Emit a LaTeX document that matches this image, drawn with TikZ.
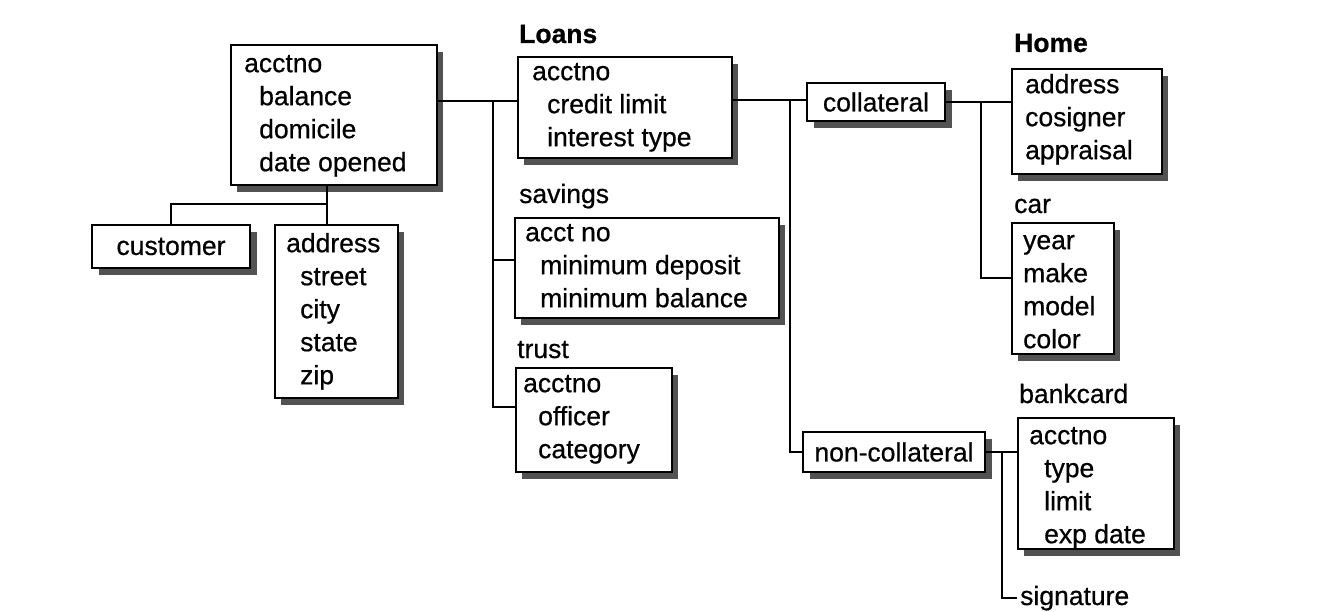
\documentclass[tikz,border=0pt]{standalone}
\usepackage{fontspec}
\setmainfont{Liberation Sans}[FakeBold=0.6]
\newfontfamily\regheavy{Liberation Sans}[FakeBold=0.6]
\usetikzlibrary{shadows}
\newcommand\topstrut{\rule{0pt}{21pt}}
\newcommand\ind{\hspace*{15pt}}
\tikzset{
  fsz/.style={font=\regheavy\fontsize{26.5}{33}\selectfont},
  box/.style={draw, line width=1.6pt, fill=white, anchor=north west, inner sep=0pt, fsz,
    drop shadow={shadow xshift=6.5pt, shadow yshift=-7pt, fill=black!68, opacity=1}},
  txt/.style={anchor=north west, inner sep=0pt, align=left, fsz},
  lbl/.style={anchor=base west, inner sep=0pt, fsz},
  conn/.style={line width=1.6pt}
}
\begin{document}
\begin{tikzpicture}[x=1pt,y=-1pt]
\useasboundingbox[fill=white] (0,0) rectangle (1332,612);

% boxes
\node[box, minimum width=206pt, minimum height=140pt] (main) at (230,44) {};
\node[txt] (mainT) at (244,51) {\topstrut acctno\\\ind balance\\\ind domicile\\\ind date opened};

\node[box, minimum width=158pt, minimum height=43pt, anchor=center] (cust) at (171,246.5) {customer};

\node[box, minimum width=123pt, minimum height=173pt] (addr) at (274,224) {};
\node[txt] (addrT) at (286,231) {\topstrut address\\\hspace*{14pt}street\\\hspace*{14pt}city\\\hspace*{14pt}state\\\hspace*{14pt}zip};

\node[lbl] (loansL) at (519,43) {\bfseries Loans};
\node[box, minimum width=214pt, minimum height=101pt] (loans) at (517,56) {};
\node[txt] (loansT) at (532,59) {\topstrut acctno\\\ind credit limit\\\ind interest type};

\node[lbl] (savL) at (519,203) {savings};
\node[box, minimum width=264pt, minimum height=100pt] (sav) at (514,217) {};
\node[txt] (savT) at (525,220) {\topstrut acct no\\\ind minimum deposit\\\ind minimum balance};

\node[lbl] (trustL) at (517,358) {trust};
\node[box, minimum width=156pt, minimum height=104pt] (trust) at (515,367) {};
\node[txt] (trustT) at (523,371) {\topstrut acctno\\\ind officer\\\ind category};

\node[box, minimum width=138pt, minimum height=38pt, anchor=center] (coll) at (876,102) {collateral};
\node[box, minimum width=182pt, minimum height=40pt, anchor=center] (noncoll) at (894,452) {non-collateral};

\node[lbl] (homeL) at (1014,52) {\bfseries Home};
\node[box, minimum width=150pt, minimum height=105pt] (home) at (1011,68) {};
\node[txt] (homeT) at (1025,72) {\topstrut address\\cosigner\\appraisal};

\node[lbl] (carL) at (1014,213) {car};
\node[box, minimum width=102pt, minimum height=131pt] (car) at (1011,222) {};
\node[txt] (carT) at (1023,228) {\topstrut year\\make\\model\\color};

\node[lbl] (bankL) at (1019,403) {bankcard};
\node[box, minimum width=156pt, minimum height=131pt] (bank) at (1017,417) {};
\node[txt] (bankT) at (1029,423) {\topstrut acctno\\\ind type\\\ind limit\\\ind exp date};

\node[anchor=base west, inner sep=0pt, inner xsep=3pt, fsz] (sig) at (1017,605) {signature};

% junctions
\coordinate (jM) at (327,204);
\coordinate (jA) at (493,101);
\coordinate (jS) at (493,260);
\coordinate (jT) at (493,407);
\coordinate (jL) at (790,100);
\coordinate (jC) at (981,102);
\coordinate (jCar) at (981,278);
\coordinate (jN) at (1002,452);

% connectors
\draw[conn] (main.south -| jM) -- (addr.north -| jM);
\draw[conn] (jM) -| (cust.north);
\draw[conn] (main.east |- jA) -- (loans.west |- jA);
\draw[conn] (jA) -- (jT) -- (trust.west |- jT);
\draw[conn] (jS) -- (sav.west |- jS);
\draw[conn] (loans.east |- jL) -- (coll.west |- jL);
\draw[conn] (jL) |- (noncoll.west);
\draw[conn] (coll.east) -- (home.west |- coll.east);
\draw[conn] (jC) -- (jCar) -- (car.west |- jCar);
\draw[conn] (noncoll.east) -- (bank.west |- noncoll.east);
\draw[conn] (jN) |- (sig.west);
\end{tikzpicture}
\end{document}
